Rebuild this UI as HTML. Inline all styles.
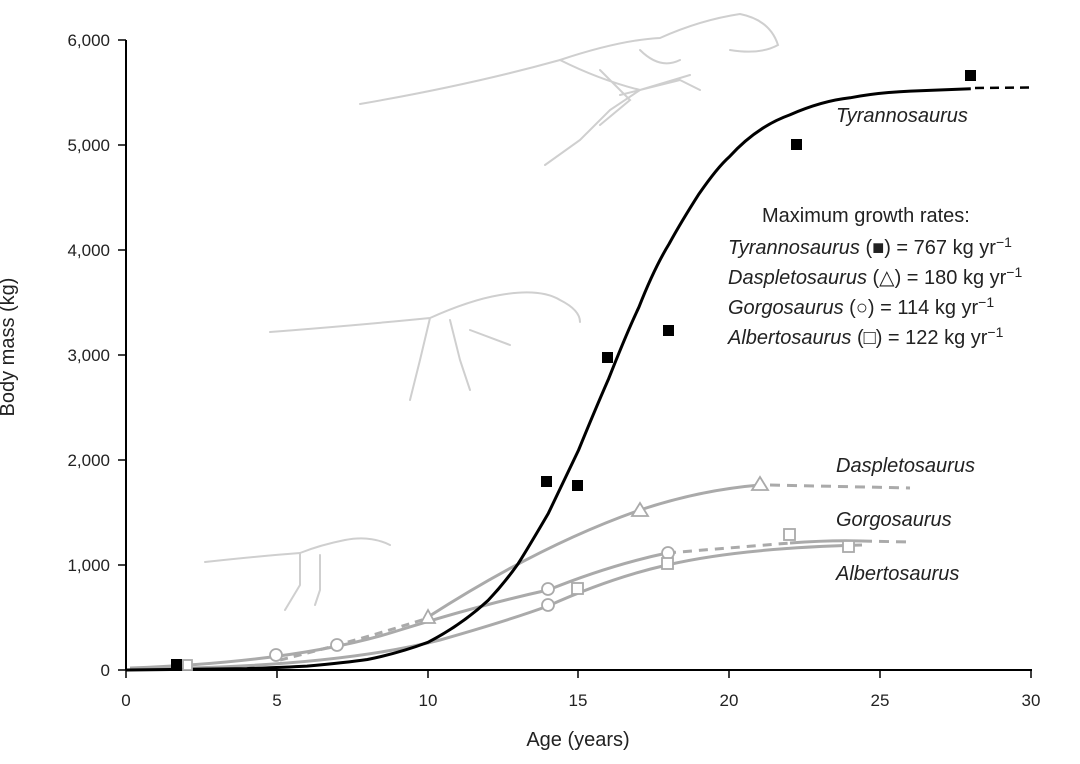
<!DOCTYPE html>
<html><head><meta charset="utf-8"><style>
html,body{margin:0;padding:0;background:#fff;}
svg{display:block;font-family:"Liberation Sans",Arial,sans-serif;}
</style></head><body>
<svg width="1080" height="764" viewBox="0 0 1080 764" xmlns="http://www.w3.org/2000/svg">
<!-- skeletons (stylized) -->
<g fill="none" stroke="#cfcfcf" stroke-width="2" stroke-linecap="round">
 <path d="M360 104 Q470 85 560 60 Q620 40 660 38 Q700 20 740 14 Q770 20 778 45 Q760 55 730 50" />
 <path d="M560 60 Q600 80 640 90 L610 110 L580 140 L545 165 M620 95 L680 80 L700 90 M640 90 L690 75"/>
 <path d="M640 50 Q660 70 680 60 M600 70 L630 100 L600 125"/>
 <path d="M270 332 Q360 325 430 318 Q470 300 500 295 Q540 288 560 300 Q580 310 580 322 M430 318 L420 360 L410 400 M450 320 L460 360 L470 390 M470 330 L510 345"/>
 <path d="M205 562 Q260 556 300 553 Q320 545 345 540 Q370 535 390 545 M300 553 L300 585 L285 610 M320 555 L320 590 L315 605"/>
</g>
<!-- axes -->
<g stroke="#000" stroke-width="2" fill="none">
 <line x1="126" y1="40" x2="126" y2="670"/>
 <line x1="126" y1="670" x2="1032" y2="670"/>
</g>
<g stroke="#000" stroke-width="1.5">
 <line x1="118" y1="670" x2="126" y2="670"/><line x1="118" y1="565" x2="126" y2="565"/>
 <line x1="118" y1="460" x2="126" y2="460"/><line x1="118" y1="355" x2="126" y2="355"/>
 <line x1="118" y1="250" x2="126" y2="250"/><line x1="118" y1="145" x2="126" y2="145"/>
 <line x1="118" y1="40" x2="126" y2="40"/>
 <line x1="126" y1="670" x2="126" y2="678"/><line x1="277" y1="670" x2="277" y2="678"/>
 <line x1="428" y1="670" x2="428" y2="678"/><line x1="578" y1="670" x2="578" y2="678"/>
 <line x1="729" y1="670" x2="729" y2="678"/><line x1="880" y1="670" x2="880" y2="678"/>
 <line x1="1031" y1="670" x2="1031" y2="678"/>
</g>
<g font-size="17" fill="#222" text-anchor="end">
 <text x="110" y="676">0</text><text x="110" y="571">1,000</text><text x="110" y="466">2,000</text>
 <text x="110" y="361">3,000</text><text x="110" y="256">4,000</text><text x="110" y="151">5,000</text>
 <text x="110" y="46">6,000</text>
</g>
<g font-size="17" fill="#222" text-anchor="middle">
 <text x="126" y="706">0</text><text x="277" y="706">5</text><text x="428" y="706">10</text>
 <text x="578" y="706">15</text><text x="729" y="706">20</text><text x="880" y="706">25</text>
 <text x="1031" y="706">30</text>
 <text x="578" y="746" font-size="20">Age (years)</text>
</g>
<text transform="translate(14,347) rotate(-90)" font-size="20" fill="#222" text-anchor="middle">Body mass (kg)</text>

<!-- gray curves -->
<g fill="none" stroke="#aaa" stroke-width="3">
 <path d="M428 617 Q540 545 640 510 Q700 490 760 485"/>
 <path d="M770 485 L910 488" stroke-dasharray="10 7"/>
 <path d="M130 668 Q300 662 400 630 Q480 605 548 590 Q610 565 667 553"/>
 <path d="M667 553 L790 543" stroke-dasharray="9 7"/>
 <path d="M790 543 Q830 540 862 541"/>
 <path d="M862 541 L910 542" stroke-dasharray="10 7"/>
 <path d="M130 669 Q330 668 440 640 Q510 620 548 606 Q610 578 667 565 Q740 548 862 545"/>
 <path d="M280 660 Q360 640 428 618" stroke-dasharray="8 6"/>
</g>
<!-- black curve -->
<path d="M126 670 L246.7 668.6 C270 667.8 290 667 307 666.1 C330 664 350 662 367.4 659.5 C390 655 410 649 427.7 642.4 C450 631 470 617 488 600.5 C498 590 508 578 518.2 563.6 C528 548 538 531 548.4 513.2 C558 493 568 472 578.6 450 C588 427 598 403 608.7 378.6 C618 355 628 330 638.9 307.2 C648 284 658 262 669.1 243.9 C680 224 690 208 699.2 193.6 C710 178 720 165 729.4 156.7 C750 134 770 122 789.8 114.9 C810 106 830 100 850.1 97.8 C870 94 890 92 910.4 91.1 L970.8 88.7" fill="none" stroke="#000" stroke-width="3"/>
<path d="M975 88 L1031 87.5" fill="none" stroke="#000" stroke-width="2.5" stroke-dasharray="9 6"/>

<!-- markers -->
<g fill="#000">
 <rect x="171" y="659" width="11" height="11"/>
 <rect x="541" y="476" width="11" height="11"/>
 <rect x="572" y="480" width="11" height="11"/>
 <rect x="602" y="352" width="11" height="11"/>
 <rect x="663" y="325" width="11" height="11"/>
 <rect x="791" y="139" width="11" height="11"/>
 <rect x="965" y="70" width="11" height="11"/>
</g>
<g fill="#fff" stroke="#aaa" stroke-width="1.8">
 <rect x="183" y="660" width="9" height="10"/>
 <path d="M428 610 L421 623 L435 623 Z"/>
 <path d="M640 503 L632 516 L648 516 Z"/>
 <path d="M760 477 L752 490 L768 490 Z"/>
 <circle cx="276" cy="655" r="6"/><circle cx="337" cy="645" r="6"/>
 <circle cx="548" cy="589" r="6"/><circle cx="548" cy="605" r="6"/>
 <circle cx="668" cy="553" r="6"/>
 <rect x="572" y="583" width="11" height="11"/><rect x="662" y="558" width="11" height="11"/>
 <rect x="784" y="529" width="11" height="11"/><rect x="843" y="541" width="11" height="11"/>
</g>

<!-- labels -->
<g font-size="20" fill="#222" font-style="italic">
 <text x="836" y="122">Tyrannosaurus</text>
 <text x="836" y="472">Daspletosaurus</text>
 <text x="836" y="526">Gorgosaurus</text>
 <text x="836" y="580">Albertosaurus</text>
</g>
<g font-size="20" fill="#222">
 <text x="762" y="222">Maximum growth rates:</text>
 <text x="728" y="254"><tspan font-style="italic">Tyrannosaurus</tspan> (■) = 767 kg yr<tspan dy="-7" font-size="14">−1</tspan></text>
 <text x="728" y="284"><tspan font-style="italic">Daspletosaurus</tspan> (△) = 180 kg yr<tspan dy="-7" font-size="14">−1</tspan></text>
 <text x="728" y="314"><tspan font-style="italic">Gorgosaurus</tspan> (○) = 114 kg yr<tspan dy="-7" font-size="14">−1</tspan></text>
 <text x="728" y="344"><tspan font-style="italic">Albertosaurus</tspan> (□) = 122 kg yr<tspan dy="-7" font-size="14">−1</tspan></text>
</g>
</svg>
</body></html>
